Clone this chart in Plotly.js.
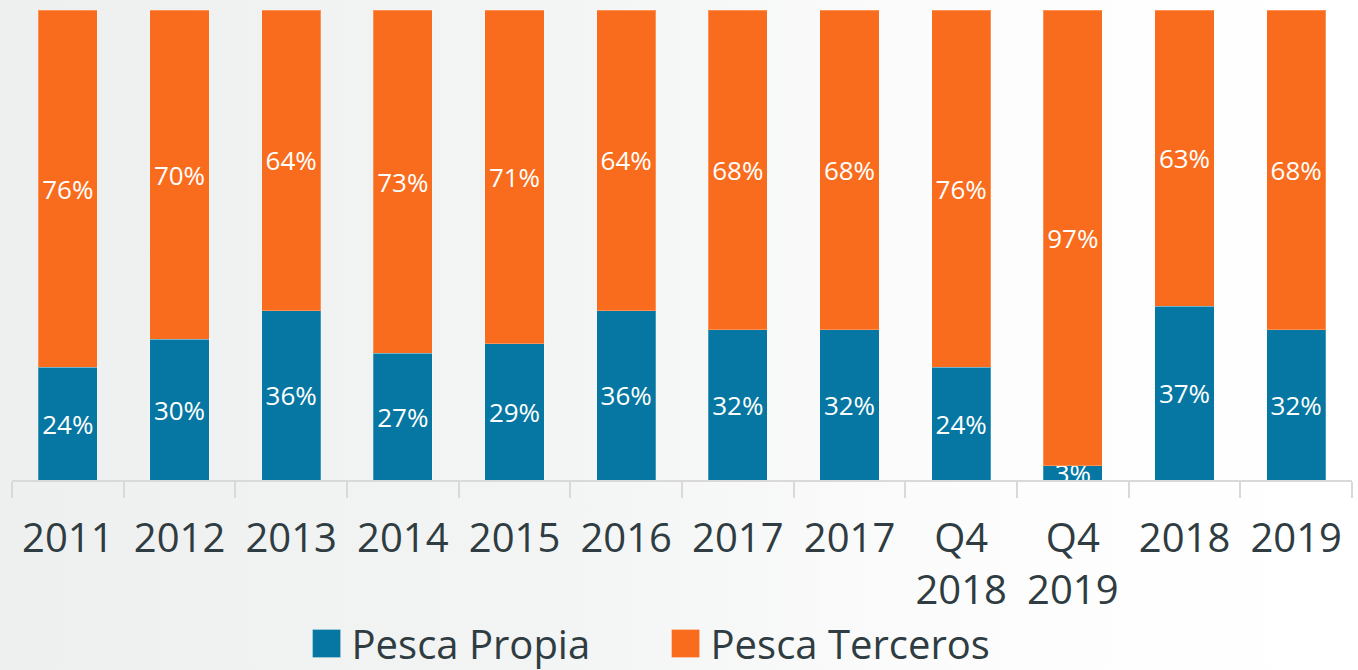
<!DOCTYPE html>
<html>
<head>
<meta charset="utf-8">
<script src="https://cdn.plot.ly/plotly-3.0.1.min.js"></script>
<style>
  html, body { margin: 0; padding: 0; }
  body { width: 1358px; height: 670px; background: linear-gradient(to right, #eeefef 0%, #f3f4f4 40%, #fdfdfd 75%, #ffffff 100%); }
  #chart { width: 1358px; height: 670px; }
</style>
</head>
<body>
<div id="chart"></div>
<script>
const categories = ['2011', '2012', '2013', '2014', '2015', '2016', '2017', '2017', 'Q4<br>2018', 'Q4<br>2019', '2018', '2019'];
const pescaPropia = [24, 30, 36, 27, 29, 36, 32, 32, 24, 3, 37, 32];
const pescaTerceros = [76, 70, 64, 73, 71, 64, 68, 68, 76, 97, 63, 68];
const seriesNames = ['Pesca Propia', 'Pesca Terceros'];

const keys = categories.map((c, i) => c + '#' + i);
const FONT = '"Open Sans", "Noto Sans", sans-serif';

function barTrace(name, values, color) {
  return {
    type: 'bar',
    name: name,
    x: keys,
    y: values,
    marker: { color: color, line: { color: 'rgba(255,255,255,0.25)', width: 1 } },
    texttemplate: '%{y}%',
    textposition: 'inside',
    insidetextanchor: 'middle',
    constraintext: 'none',
    textangle: 0,
    insidetextfont: { color: '#ffffff', size: 26, family: FONT },
    hoverinfo: 'x+y+name'
  };
}

const data = [
  barTrace(seriesNames[0], pescaPropia, '#0577a2'),
  barTrace(seriesNames[1], pescaTerceros, '#f96c1d')
];

const layout = {
  width: 1358,
  height: 670,
  margin: { l: 12, r: 6, t: 10, b: 190 },
  paper_bgcolor: 'rgba(0,0,0,0)',
  plot_bgcolor: 'rgba(0,0,0,0)',
  barmode: 'stack',
  bargap: 0.47,
  font: { family: FONT, color: '#2f3c41' },
  xaxis: {
    type: 'category',
    tickmode: 'array',
    tickvals: keys,
    ticktext: categories,
    tickson: 'boundaries',
    ticks: 'outside',
    ticklen: 16,
    tickwidth: 2,
    tickcolor: '#d9d9d9',
    showline: true,
    linecolor: '#d9d9d9',
    linewidth: 2,
    showgrid: false,
    zeroline: false,
    ticklabelstandoff: 22,
    tickfont: { size: 40, family: FONT, color: '#2f3c41' },
    fixedrange: true
  },
  yaxis: {
    visible: false,
    range: [0, 100],
    showgrid: false,
    zeroline: false,
    fixedrange: true
  },
  showlegend: true,
  legend: {
    orientation: 'h',
    x: 0.484,
    xanchor: 'center',
    yref: 'container',
    y: 0,
    yanchor: 'bottom',
    font: { size: 40, family: FONT, color: '#2f3c41' },
    bgcolor: 'rgba(0,0,0,0)',
    traceorder: 'normal',
    itemwidth: 40,
    entrywidth: 304
  }
};

Plotly.newPlot('chart', data, layout, { displayModeBar: false, staticPlot: true }).then(function (gd) {
  // enlarge legend swatches to match the reference
  gd.querySelectorAll('.legendpoints path').forEach(function (p) {
    p.setAttribute('d', 'M14,14H-14V-14H14Z');
  });
  // nudge the legend slightly lower, as in the reference
  const lg = gd.querySelector('g.legend');
  if (lg) {
    const t = lg.getAttribute('transform') || '';
    lg.setAttribute('transform', t + ' translate(0,6)');
  }
});
</script>
</body>
</html>
